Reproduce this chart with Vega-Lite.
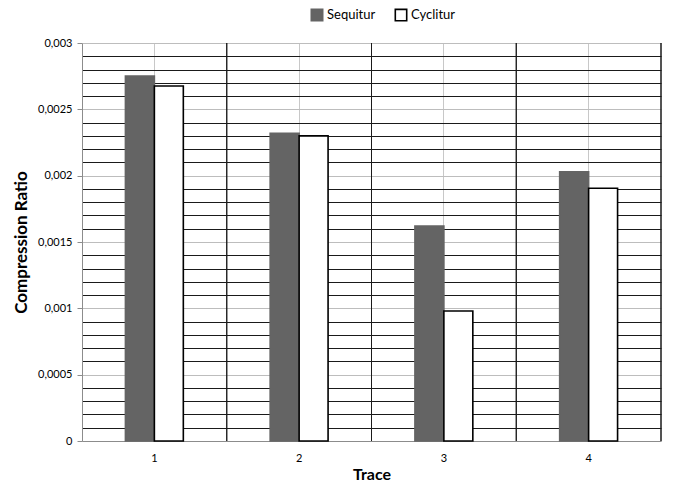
{
  "$schema": "https://vega.github.io/schema/vega-lite/v6.json",
  "width": 579,
  "height": 398,
  "autosize": {"type": "none"},
  "padding": {"left": 82, "top": 43, "right": 12, "bottom": 45},
  "config": {
    "font": "Lato",
    "view": {"stroke": null},
    "axis": {"labelFont": "Lato", "titleFont": "Lato"}
  },
  "data": {
    "values": [
      {"Trace": "1", "Method": "Sequitur", "Ratio": 0.00275},
      {"Trace": "1", "Method": "Cyclitur", "Ratio": 0.002676},
      {"Trace": "2", "Method": "Sequitur", "Ratio": 0.00232},
      {"Trace": "2", "Method": "Cyclitur", "Ratio": 0.0023},
      {"Trace": "3", "Method": "Sequitur", "Ratio": 0.00162},
      {"Trace": "3", "Method": "Cyclitur", "Ratio": 0.00098},
      {"Trace": "4", "Method": "Sequitur", "Ratio": 0.00203},
      {"Trace": "4", "Method": "Cyclitur", "Ratio": 0.001905}
    ]
  },
  "resolve": {"scale": {"x": "independent"}},
  "layer": [
    {
      "mark": {"type": "rule", "color": "#1a1a1a", "strokeWidth": 1},
      "encoding": {
        "x": {"field": "Trace", "type": "ordinal", "bandPosition": 1, "scale": {"paddingInner": 0, "paddingOuter": 0}, "axis": null}
      }
    },
    {
      "mark": {"type": "bar", "strokeWidth": 1.6},
      "encoding": {
        "x": {
          "field": "Trace",
          "type": "ordinal",
          "scale": {"paddingInner": 0.6, "paddingOuter": 0.3},
          "axis": {
            "title": "Trace",
            "titleFontSize": 16,
            "titleFontWeight": "bold",
            "titleColor": "#000",
            "titlePadding": 3,
            "labelAngle": 0,
            "labelFontSize": 11,
            "labelColor": "#000",
            "labelPadding": 11,
            "ticks": false,
            "domainColor": "#8c8c8c",
            "grid": true,
            "gridColor": "#c8c8c8",
            "gridWidth": 1
          }
        },
        "xOffset": {
          "field": "Method",
          "type": "nominal",
          "sort": ["Sequitur", "Cyclitur"],
          "scale": {"paddingInner": 0, "paddingOuter": 0}
        },
        "y": {
          "field": "Ratio",
          "type": "quantitative",
          "scale": {"domain": [0, 0.003], "nice": false},
          "axis": {
            "title": "Compression Ratio",
            "titleFontSize": 17,
            "titleFontWeight": "bold",
            "titleColor": "#000",
            "titlePadding": 7,
            "values": [0, 0.0001, 0.0002, 0.0003, 0.0004, 0.0005, 0.0006, 0.0007, 0.0008, 0.0009, 0.001, 0.0011, 0.0012, 0.0013, 0.0014, 0.0015, 0.0016, 0.0017, 0.0018, 0.0019, 0.002, 0.0021, 0.0022, 0.0023, 0.0024, 0.0025, 0.0026, 0.0027, 0.0028, 0.0029, 0.003],
            "labelExpr": "round(datum.value*10000) % 5 == 0 ? replace(format(datum.value, '~g'), '.', ',') : ''",
            "labelFontSize": 11,
            "labelColor": "#000",
            "labelPadding": 5,
            "tickSize": 5,
            "tickColor": "#8c8c8c",
            "tickOpacity": {"condition": {"test": "round(datum.value*10000) % 5 == 0", "value": 1}, "value": 0},
            "domainColor": "#8c8c8c",
            "grid": true,
            "gridColor": {"condition": {"test": "round(datum.value*10000) % 5 == 0", "value": "#bdbdbd"}, "value": "#1a1a1a"},
            "gridWidth": 1
          }
        },
        "fill": {
          "field": "Method",
          "type": "nominal",
          "sort": ["Sequitur", "Cyclitur"],
          "scale": {"domain": ["Sequitur", "Cyclitur"], "range": ["#646464", "#ffffff"]},
          "legend": {
            "title": null,
            "orient": "none",
            "legendX": 228,
            "legendY": -35,
            "direction": "horizontal",
            "symbolType": "square",
            "symbolSize": 130,
            "symbolStrokeWidth": 1.6,
            "labelFontSize": 13,
            "labelColor": "#000",
            "labelOffset": 3,
            "columnPadding": 16
          }
        },
        "stroke": {
          "field": "Method",
          "type": "nominal",
          "sort": ["Sequitur", "Cyclitur"],
          "scale": {"domain": ["Sequitur", "Cyclitur"], "range": ["#646464", "#000000"]},
          "legend": null
        }
      }
    }
  ]
}
